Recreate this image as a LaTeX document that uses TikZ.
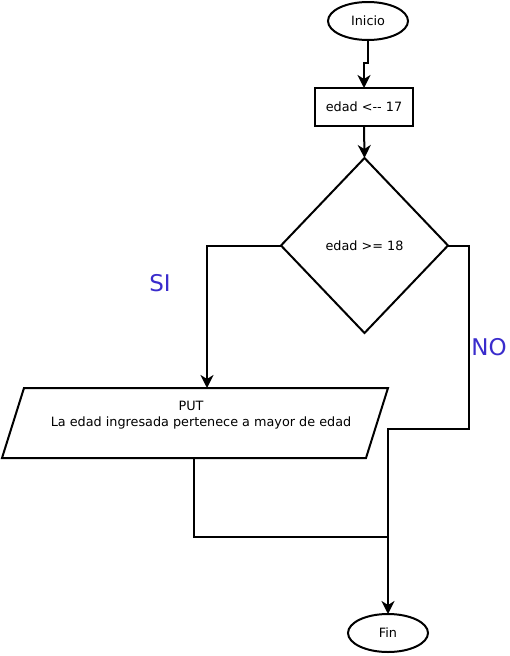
\documentclass[tikz,border=0pt]{standalone}
\usepackage{fontspec}
\setmainfont{DejaVu Sans}
\usepackage{tikz}
\usetikzlibrary{shapes.geometric, arrows.meta}
\definecolor{etiqueta}{RGB}{58,44,204}

\tikzset{
    linea/.style={line width=2pt},
    flecha/.style={linea, -{Stealth[length=13pt, width=13pt, inset=4pt]}},
    caja/.style={draw, linea, outer sep=0pt, inner sep=0pt, font=\fontsize{12.8}{15}\selectfont}
}

\begin{document}
\begin{tikzpicture}[x=1pt, y=-1pt]
    \useasboundingbox (0,0) rectangle (510,656);
    \node(inicio)[caja, shape=ellipse, minimum width=80pt, minimum height=38pt] at (368,21) {Inicio};
    \node(asig)[caja, shape=rectangle, minimum width=98pt, minimum height=38pt] at (364,107) {edad <-{}- 17};
    \node(cond)[caja, shape=diamond, minimum width=167pt, minimum height=175pt] at (364.5,245.5) {edad >= 18};
    % paralelogramo de salida
    \draw[linea] (24,388) -- (388,388) -- (366,458) -- (2,458) -- cycle;
    \coordinate(salidaN) at (207,388);
    \coordinate(salidaS) at (194,458);
    \node(texto)[font=\fontsize{12.8}{16}\selectfont, align=center] at (201,415)
        {PUT\hspace*{20pt}\\La edad ingresada pertenece a mayor de edad};
    \node(fin)[caja, shape=ellipse, minimum width=80pt, minimum height=38pt] at (388,633) {Fin};
    \node(si)[text=etiqueta, font=\fontsize{23}{27}\selectfont] at (160,283) {SI};
    \node(no)[text=etiqueta, font=\fontsize{23}{27}\selectfont] at (489,347) {NO};
    \coordinate(quiebre) at (364,63);
    \coordinate(no1) at (469,429);
    \coordinate(no2) at (388,429);
    \coordinate(union) at (388,537);
    \draw[flecha] (inicio.south) |- (quiebre) -- (asig.north);
    \draw[flecha] (asig.south) -- (cond.north);
    \draw[flecha] (cond.west) -| (salidaN);
    \draw[flecha] (cond.east) -| (no1) -- (no2) -- (fin.north);
    \draw[linea] (salidaS) |- (union);
\end{tikzpicture}
\end{document}
